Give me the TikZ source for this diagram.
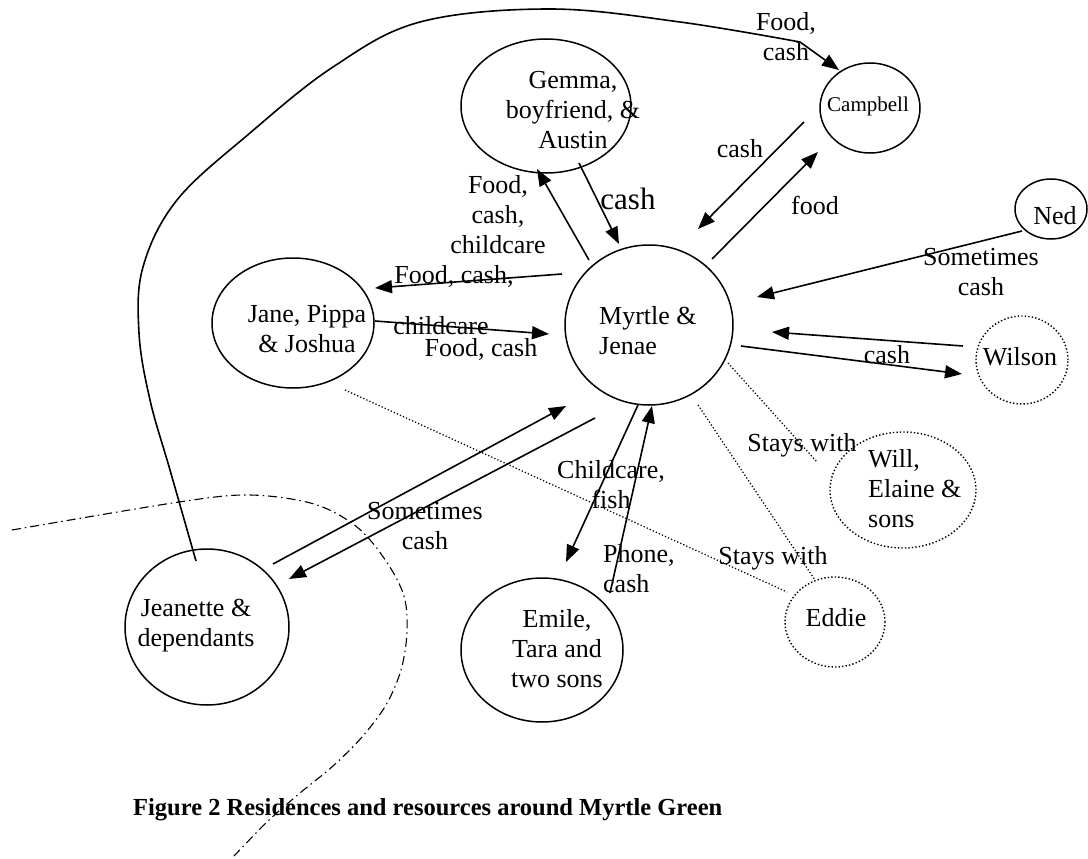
\documentclass[tikz,border=0pt]{standalone}
\usepackage{fontspec}
\setmainfont{Liberation Serif}
\usetikzlibrary{arrows.meta,calc,shapes.geometric}
\begin{document}
\begin{tikzpicture}[x=1pt,y=-1pt,
  el/.style={draw, ellipse, line width=1.5pt, inner sep=0pt},
  dotel/.style={draw, ellipse, inner sep=0pt, line width=1.4pt, dash pattern=on 1.4pt off 2.1pt},
  txt/.style={inner sep=0pt, align=center, font=\fontsize{26}{30}\selectfont},
  arr/.style={line width=1.6pt, -{Triangle[length=17pt,width=13pt]}},
  dotln/.style={line width=1.25pt, dash pattern=on 1.25pt off 2.1pt},
]
\useasboundingbox (0,0) rectangle (1088,859);

% residences
\node[el, minimum width=168pt, minimum height=160pt] (myr) at (649,325) {};
\node[txt, align=left, anchor=west] (myrt) at (599,331) {Myrtle \&\\Jenae};

\node[el, minimum width=170pt, minimum height=134pt] (gem) at (546,106) {};
\node[txt] (gemt) at (573,110) {Gemma,\\boyfriend, \&\\Austin};

\node[el, minimum width=100pt, minimum height=90pt] (camp) at (870,108) {};
\node[txt, font=\fontsize{21}{24}\selectfont] (campt) at (868,106) {Campbell};

\node[el, minimum width=72pt, minimum height=60pt] (ned) at (1051,209) {};
\node[txt] (nedt) at (1055,216) {Ned};

\node[dotel, minimum width=92pt, minimum height=88pt] (wil) at (1022,360) {};
\node[txt] (wilt) at (1020,357) {Wilson};

\node[dotel, minimum width=146pt, minimum height=116pt] (will) at (903,490) {};
\node[txt, align=left, anchor=west] (willt) at (868,489) {Will,\\Elaine \&\\sons};

\node[dotel, minimum width=100pt, minimum height=90pt] (edd) at (835,622) {};
\node[txt] (eddt) at (836,618) {Eddie};

\node[el, minimum width=162pt, minimum height=144pt] (emi) at (542,650) {};
\node[txt] (emit) at (557,649) {Emile,\\Tara and\\two sons};

\node[el, minimum width=162pt, minimum height=130pt] (jan) at (293,323) {};
\node[txt] (jant) at (307,329) {Jane, Pippa\\\& Joshua};

\node[el, minimum width=164pt, minimum height=156pt] (jea) at (207,627) {};
\node[txt] (jeat) at (196,626) {Jeanette \&\\dependants};

% Gemma
\draw[arr] ($(myr)+(-60,-65)$) -- ($(gem)+(-9,63)$);
\draw[arr] ($(gem)+(33,57)$) -- ($(myr)+(-30,-81)$);
\node[txt] (l1) at (498,215) {Food,\\cash,\\childcare};
\node[txt, font=\fontsize{31}{34}\selectfont] (l2) at (628,199) {cash};

% Campbell
\draw[arr] ($(camp)+(-66,14)$) -- ($(myr)+(49,-96)$);
\draw[arr] ($(myr)+(63,-66)$) -- ($(camp)+(-52,44)$);
\node[txt] (l3) at (740,149) {cash};
\node[txt] (l4) at (815,205) {food};

% Ned
\draw[arr] ($(ned)+(-29,22)$) -- ($(myr)+(108,-28)$);
\node[txt] (l5) at (981,272) {Sometimes\\cash};

% Wilson
\draw[arr] ($(wil)+(-59,-14)$) -- ($(myr)+(123,7)$);
\draw[arr] ($(myr)+(92,21)$) -- ($(wil)+(-60,14)$);
\node[txt] (l6) at (887,355) {cash};

% Jane
\draw[arr] ($(myr)+(-87,-51)$) -- ($(jan)+(82,-35)$);
\draw[arr] ($(jan)+(82,-2)$) -- ($(myr)+(-100,9)$);
\node[txt] (l7) at (454,276) {Food, cash,};
\node[txt] (l8) at (441,326) {childcare};
\node[txt] (l9) at (481,349) {Food, cash};

% Jeanette
\draw[arr] ($(jea)+(66,-63)$) -- ($(myr)+(-83,81)$);
\draw[arr] ($(myr)+(-54,93)$) -- ($(jea)+(82,-48)$);
\node[txt] (l10) at (425,526) {Sometimes\\cash};

% Emile
\draw[arr] ($(myr)+(-11,80)$) -- ($(emi)+(24,-88)$);
\draw[arr] ($(emi)+(68,-57)$) -- ($(myr)+(3,81)$);
\node[txt] (l11) at (611,485) {Childcare,\\fish};
\node[txt, align=left, anchor=west] (l12) at (603,569) {Phone,\\cash};

% stays with
\draw[dotln] ($(jan)+(52,67)$) -- ($(edd)+(-48,-30)$);
\draw[dotln] ($(myr)+(49,80)$) -- ($(edd)+(-20,-42)$);
\draw[dotln] ($(myr)+(79,38)$) -- ($(will)+(-86,-28)$);
\node[txt] (l13) at (802,445) {Stays with};
\node[txt] (l14) at (773,558) {Stays with};

% long curve Jeanette -> Campbell
\coordinate (cs) at ($(jea)+(-11,-66)$);
\draw[arr] plot[smooth, tension=0.6] coordinates {(cs) (170,470) (150,400) (139,333) (143,267) (177,200) (250,133) (333,67) (420,22) (550,9) (680,22) (800,42)} -- ($(camp)+(-31,-38)$);
\node[txt] (l15) at (786,37) {Food,\\cash};

% dash-dot boundary
\draw[line width=1.1pt, dash pattern=on 9pt off 4pt on 1.5pt off 4pt] plot[smooth, tension=0.55] coordinates {(12,530) (179,502) (250,495) (314,504) (357,527) (386,561) (404,596) (407,632) (401,670) (386,705) (362,737) (333,766) (300,793) (268,821) (234,856)};

% caption
\node[inner sep=0pt, anchor=base west, font=\bfseries\fontsize{24.5}{28}\selectfont] (cap) at (133,815) {Figure 2 Residences and resources around Myrtle Green};
\end{tikzpicture}
\end{document}
